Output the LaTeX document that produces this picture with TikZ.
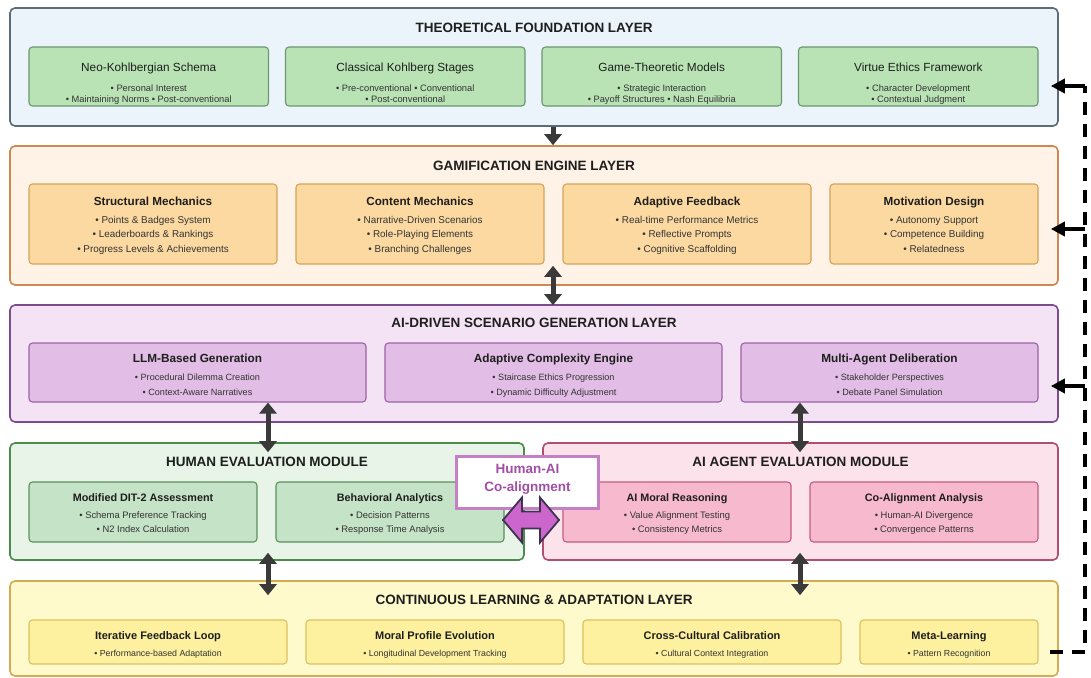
\documentclass[tikz,border=0pt]{standalone}
\usepackage{fontspec}
\setmainfont{Liberation Sans}
\usetikzlibrary{calc,arrows.meta}

\definecolor{ink}{HTML}{1E1E1E}
\definecolor{ink2}{HTML}{333333}
\definecolor{conn}{HTML}{3A3A3A}
\definecolor{l1f}{HTML}{EAF4FA}\definecolor{l1d}{HTML}{5B6B78}
\definecolor{s1f}{HTML}{B9E3B5}\definecolor{s1d}{HTML}{6E9670}
\definecolor{l2f}{HTML}{FEF3E6}\definecolor{l2d}{HTML}{D08850}
\definecolor{s2f}{HTML}{FDD9A2}\definecolor{s2d}{HTML}{D6A25A}
\definecolor{l3f}{HTML}{F4E3F5}\definecolor{l3d}{HTML}{7D4C8C}
\definecolor{s3f}{HTML}{E2BDE6}\definecolor{s3d}{HTML}{9C62A8}
\definecolor{hf}{HTML}{E7F4E7}\definecolor{hd}{HTML}{4B8B4B}
\definecolor{shf}{HTML}{C5E3C6}\definecolor{shd}{HTML}{5D8F5F}
\definecolor{af}{HTML}{FCE3EB}\definecolor{ad}{HTML}{B24E6E}
\definecolor{saf}{HTML}{F7B9CD}\definecolor{sad}{HTML}{C45C7E}
\definecolor{bf}{HTML}{FEFACC}\definecolor{bd}{HTML}{D6AA50}
\definecolor{sbf}{HTML}{FDF09E}\definecolor{sbd}{HTML}{DCC060}
\definecolor{cobox}{HTML}{C57FC5}
\definecolor{cotext}{HTML}{A24EA6}
\definecolor{coarrow}{HTML}{CC66CC}
\definecolor{coedge}{HTML}{3D3350}

\tikzset{
  lay/.style={rectangle, rounded corners=5pt, line width=1.6pt, inner sep=0pt},
  sb/.style={rectangle, rounded corners=3.5pt, line width=1.1pt, inner sep=0pt},
  T/.style={inner sep=0pt, text depth=0pt, text=ink, anchor=center},
  ltitle/.style={T, font=\bfseries\fontsize{13.5}{16}\selectfont, text height=9.7pt},
  conn/.style={draw=conn, line width=5pt},
  one/.style={conn, -{Triangle[width=17pt,length=11pt]}},
  two/.style={conn, {Triangle[width=17pt,length=11pt]}-{Triangle[width=17pt,length=11pt]}},
  fb/.style={draw=black, line width=3.8pt, dash pattern=on 13pt off 9pt},
  fbarrow/.style={draw=black, line width=3.8pt, -{Triangle[width=14pt,length=14pt]}},
}

\newcommand{\SBox}[8]{%
  \node[#2, minimum width={(#4)-(#3)}, minimum height={(#6)-(#5)}] (#1) at ({((#3)+(#4))/2},{((#5)+(#6))/2}) {};
  \node[ttl] (#1-t) at ({((#3)+(#4))/2},{\TY}) {#7};
  \foreach \itemtext [count=\i] in {#8} {
    \node[bul] (#1-\i) at ({((#3)+(#4))/2},{\BY+(\i-1)*\BS}) {\itemtext};
  }%
}

\begin{document}
\begin{tikzpicture}[x=1pt,y=-1pt]
\useasboundingbox (0,0) rectangle (1091,677);
\fill[white] (0,0) rectangle (1091,677);

% ---------- Layers ----------
\node[lay, draw=l1d, fill=l1f, minimum width=1048, minimum height=118] (L1) at (534,67) {};
\node[lay, draw=l2d, fill=l2f, minimum width=1048, minimum height=139] (L2) at (534,215.5) {};
\node[lay, draw=l3d, fill=l3f, minimum width=1048, minimum height=117] (L3) at (534,363.5) {};
\node[lay, draw=hd, fill=hf, minimum width=514, minimum height=117] (H) at (267,501.5) {};
\node[lay, draw=ad, fill=af, minimum width=515, minimum height=117] (A) at (800.5,501.5) {};
\node[lay, draw=bd, fill=bf, minimum width=1048, minimum height=95] (B) at (534,628.5) {};

\node[ltitle] (L1t) at (534,28) {THEORETICAL FOUNDATION LAYER};
\node[ltitle] (L2t) at (534,166) {GAMIFICATION ENGINE LAYER};
\node[ltitle] (L3t) at (534,323) {AI-DRIVEN SCENARIO GENERATION LAYER};
\node[ltitle] (Ht) at (267,462) {HUMAN EVALUATION MODULE};
\node[ltitle] (At) at (800.5,462) {AI AGENT EVALUATION MODULE};
\node[ltitle] (Bt) at (534,600) {CONTINUOUS LEARNING \& ADAPTATION LAYER};

% ---------- Layer 1 ----------
\tikzset{ttl/.style={T, font=\fontsize{11.8}{14}\selectfont, text height=8.4pt},
         bul/.style={T, text=ink2, font=\fontsize{9.3}{11}\selectfont, text height=6.7pt}}
\def\TY{67}\def\BY{88}\def\BS{11}
\SBox{t1}{sb, draw=s1d, fill=s1f}{29}{268.5}{47}{106}{Neo-Kohlbergian Schema}{{• Personal Interest},{• Maintaining Norms • Post-conventional}}
\SBox{t2}{sb, draw=s1d, fill=s1f}{285.5}{525}{47}{106}{Classical Kohlberg Stages}{{• Pre-conventional • Conventional},{• Post-conventional}}
\SBox{t3}{sb, draw=s1d, fill=s1f}{542}{781.5}{47}{106}{Game-Theoretic Models}{{• Strategic Interaction},{• Payoff Structures • Nash Equilibria}}
\SBox{t4}{sb, draw=s1d, fill=s1f}{798.5}{1038}{47}{106}{Virtue Ethics Framework}{{• Character Development},{• Contextual Judgment}}

% ---------- Layer 2 ----------
\tikzset{ttl/.style={T, font=\bfseries\fontsize{11.7}{14}\selectfont, text height=8.4pt},
         bul/.style={T, text=ink2, font=\fontsize{9.9}{12}\selectfont, text height=7.1pt}}
\def\TY{201}\def\BY{219.5}\def\BS{14.5}
\SBox{g1}{sb, draw=s2d, fill=s2f}{29}{277}{184}{264}{Structural Mechanics}{{• Points \& Badges System},{• Leaderboards \& Rankings},{• Progress Levels \& Achievements}}
\SBox{g2}{sb, draw=s2d, fill=s2f}{296}{544}{184}{264}{Content Mechanics}{{• Narrative-Driven Scenarios},{• Role-Playing Elements},{• Branching Challenges}}
\SBox{g3}{sb, draw=s2d, fill=s2f}{563}{811}{184}{264}{Adaptive Feedback}{{• Real-time Performance Metrics},{• Reflective Prompts},{• Cognitive Scaffolding}}
\SBox{g4}{sb, draw=s2d, fill=s2f}{830}{1038}{184}{264}{Motivation Design}{{• Autonomy Support},{• Competence Building},{• Relatedness}}

% ---------- Layer 3 ----------
\tikzset{ttl/.style={T, font=\bfseries\fontsize{11.8}{14}\selectfont, text height=8.4pt},
         bul/.style={T, text=ink2, font=\fontsize{9.1}{11}\selectfont, text height=6.5pt}}
\def\TY{358}\def\BY{377}\def\BS{15}
\SBox{a1}{sb, draw=s3d, fill=s3f}{29}{366}{343}{402}{LLM-Based Generation}{{• Procedural Dilemma Creation},{• Context-Aware Narratives}}
\SBox{a2}{sb, draw=s3d, fill=s3f}{385}{722}{343}{402}{Adaptive Complexity Engine}{{• Staircase Ethics Progression},{• Dynamic Difficulty Adjustment}}
\SBox{a3}{sb, draw=s3d, fill=s3f}{741}{1038}{343}{402}{Multi-Agent Deliberation}{{• Stakeholder Perspectives},{• Debate Panel Simulation}}

% ---------- Modules ----------
\tikzset{ttl/.style={T, font=\bfseries\fontsize{10.8}{13}\selectfont, text height=7.7pt},
         bul/.style={T, text=ink2, font=\fontsize{9.4}{11}\selectfont, text height=6.7pt}}
\def\TY{497.5}\def\BY{515.5}\def\BS{14}
\SBox{h1}{sb, draw=shd, fill=shf}{29}{257}{482}{542}{Modified DIT-2 Assessment}{{• Schema Preference Tracking},{• N2 Index Calculation}}
\SBox{h2}{sb, draw=shd, fill=shf}{276}{504}{482}{542}{Behavioral Analytics}{{• Decision Patterns},{• Response Time Analysis}}
\SBox{m1}{sb, draw=sad, fill=saf}{563}{791}{482}{542}{AI Moral Reasoning}{{• Value Alignment Testing},{• Consistency Metrics}}
\SBox{m2}{sb, draw=sad, fill=saf}{810}{1038}{482}{542}{Co-Alignment Analysis}{{• Human-AI Divergence},{• Convergence Patterns}}

% ---------- Bottom layer ----------
\tikzset{ttl/.style={T, font=\bfseries\fontsize{11}{13}\selectfont, text height=7.9pt},
         bul/.style={T, text=ink2, font=\fontsize{8.8}{11}\selectfont, text height=6.3pt}}
\def\TY{636}\def\BY{653}\def\BS{14}
\SBox{c1}{sb, draw=sbd, fill=sbf}{29}{287}{620}{664}{Iterative Feedback Loop}{{• Performance-based Adaptation}}
\SBox{c2}{sb, draw=sbd, fill=sbf}{306}{564}{620}{664}{Moral Profile Evolution}{{• Longitudinal Development Tracking}}
\SBox{c3}{sb, draw=sbd, fill=sbf}{583}{841}{620}{664}{Cross-Cultural Calibration}{{• Cultural Context Integration}}
\SBox{c4}{sb, draw=sbd, fill=sbf}{860}{1038}{620}{664}{Meta-Learning}{{• Pattern Recognition}}

% ---------- Connectors between layers ----------
\draw[one] ([xshift=19pt]L1.south) -- ([xshift=19pt]L2.north);
\draw[two] ([xshift=19pt,yshift=20pt]L2.south) -- ([xshift=19pt,yshift=-1pt]L3.north);
\draw[two] ($(a1.south -| H.north)+(1,0)$) -- ($(H.north)+(1,10)$);
\draw[two] ($(a3.south -| A.north)+(-0.5,0)$) -- ($(A.north)+(-0.5,10)$);
\draw[two] ($(H.south)+(1,-8)$) -- ($(B.north -| H.south)+(1,15)$);
\draw[two] ($(A.south)+(-0.5,-8)$) -- ($(B.north -| A.south)+(-0.5,15)$);

% ---------- Human-AI co-alignment ----------
\node[rectangle, draw=cobox, fill=white, line width=3pt, minimum width=142, minimum height=52, inner sep=0pt] (CO) at (527.5,482) {};
\node[T, text=cotext, font=\bfseries\fontsize{13.5}{16}\selectfont, text height=9.7pt] (CO1) at (527.5,469) {Human-AI};
\node[T, text=cotext, font=\bfseries\fontsize{13.5}{16}\selectfont, text height=9.7pt] (CO2) at (527.5,486.5) {Co-alignment};
\draw[fill=coarrow, draw=coedge, line width=1.8pt, line join=miter]
  (503,520) -- (522,497.5) -- (522,511.5) -- (540,511.5) -- (540,497.5) -- (559,520)
  -- (540,542.5) -- (540,528.5) -- (522,528.5) -- (522,542.5) -- cycle;

% ---------- Feedback loop ----------
\coordinate (fbStart) at (1050,652);
\coordinate (fbCorner) at (1085,652);
\coordinate (fb1) at (1085,86);
\coordinate (fb2) at (1085,229);
\coordinate (fb3) at (1085,386);
\draw[fb] (fbStart) -- (fbCorner) -- (fb1);
\draw[fbarrow] (fb1) -- ($(fb1 -| L1.east)+(-8,0)$);
\draw[fbarrow] (fb2) -- ($(fb2 -| L2.east)+(-8,0)$);
\draw[fbarrow] (fb3) -- ($(fb3 -| L3.east)+(-8,0)$);
\end{tikzpicture}
\end{document}
